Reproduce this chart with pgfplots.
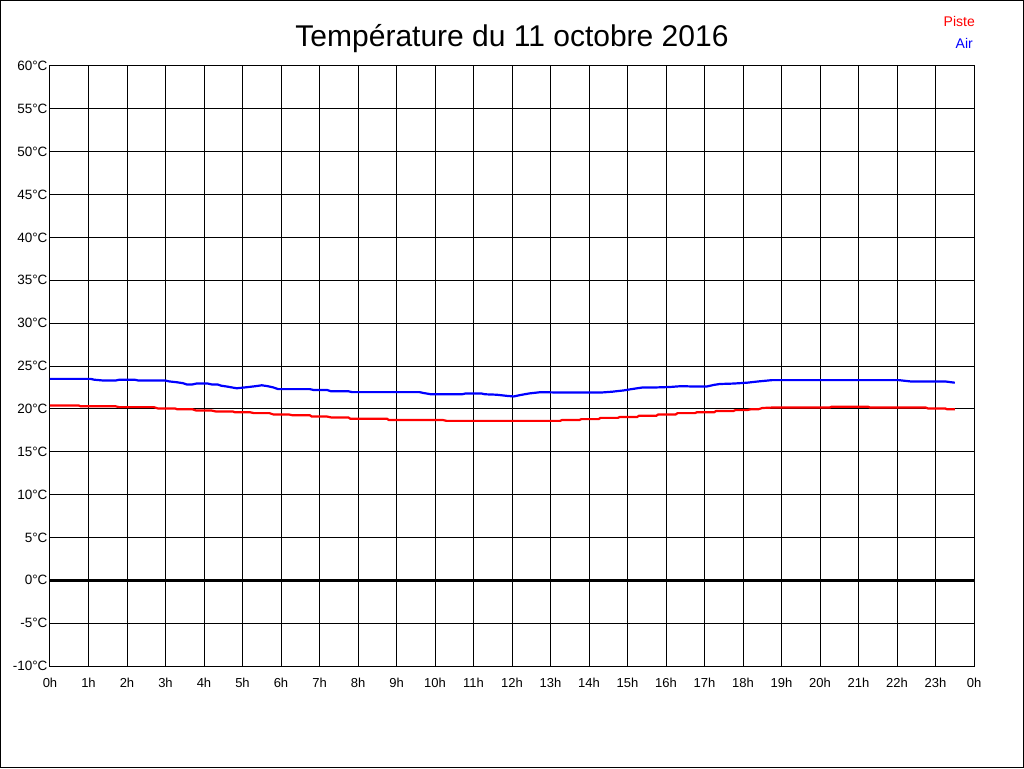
\documentclass[border=0pt]{standalone}
\usepackage{fontspec}
\setmainfont{Liberation Sans}
\usepackage{pgfplots}
\pgfplotsset{compat=1.18}
\definecolor{pred}{RGB}{255,0,0}
\definecolor{pblue}{RGB}{0,0,255}
\begin{document}
\begin{tikzpicture}
\useasboundingbox (-50pt,-102pt) rectangle (974pt,666pt);
\fill[white] (-50pt,-102pt) rectangle (974pt,666pt);
\begin{axis}[
  at={(0pt,0pt)}, anchor=south west,
  scale only axis, width=924pt, height=600pt,
  xmin=0, xmax=24, ymin=-10, ymax=60,
  xtick={0,1,...,24},
  xticklabels={0h,1h,2h,3h,4h,5h,6h,7h,8h,9h,10h,11h,12h,13h,14h,15h,16h,17h,18h,19h,20h,21h,22h,23h,0h},
  ytick={-10,-5,...,60},
  yticklabels={-10°C,-5°C,0°C,5°C,10°C,15°C,20°C,25°C,30°C,35°C,40°C,45°C,50°C,55°C,60°C},
  major tick length=0pt,
  grid=major,
  major grid style={black, line width=1pt},
  axis line style={black, line width=1pt},
  xticklabel style={font=\fontsize{13}{15}\selectfont, text=black, yshift=-8.5pt},
  yticklabel style={font=\fontsize{13.5}{15}\selectfont, text=black, xshift=1pt},
  title={Température du 11 octobre 2016},
  title style={font=\fontsize{30}{34}\selectfont, at={(axis description cs:0.5,1)}, anchor=base, yshift=13.5pt, inner sep=0pt},
  clip=false,
]
\addplot[black, line width=3pt] coordinates {(0,0) (24,0)};
\addplot[pred, line width=2.2pt] coordinates {
(0,20.4) (0.74,20.4) (0.8,20.3) (1.7,20.3) (1.8,20.2) (2.7,20.2) (2.8,20.05) (3.25,20.05)
(3.3,19.95) (3.7,19.95) (3.8,19.8) (4.2,19.8) (4.3,19.7) (4.75,19.7) (4.8,19.6) (5.2,19.6)
(5.3,19.5) (5.7,19.5) (5.8,19.35) (6.2,19.35) (6.3,19.25) (6.75,19.25) (6.8,19.1) (7.2,19.1)
(7.3,19.0) (7.75,19.0) (7.8,18.85) (8.75,18.85) (8.8,18.7) (10.2,18.7) (10.3,18.6) (13.25,18.6)
(13.3,18.7) (13.75,18.7) (13.8,18.8) (14.25,18.8) (14.3,18.95) (14.75,18.95) (14.8,19.05) (15.25,19.05)
(15.3,19.2) (15.75,19.2) (15.8,19.35) (16.25,19.35) (16.3,19.5) (16.75,19.5) (16.8,19.6) (17.25,19.6)
(17.3,19.75) (17.75,19.75) (17.8,19.85) (18.1,19.85) (18.2,19.95) (18.4,19.95) (18.5,20.1) (18.75,20.15)
(20.25,20.15) (20.3,20.25) (21.25,20.25) (21.3,20.15) (22.75,20.15) (22.8,20.05) (23.25,20.05) (23.3,19.95) (23.5,19.95)
};
\addplot[pblue, line width=2.2pt] coordinates {
(0,23.5) (1.05,23.5) (1.15,23.4) (1.4,23.3) (1.7,23.3) (1.8,23.4) (2.2,23.4) (2.3,23.3)
(3.0,23.3) (3.1,23.2) (3.3,23.1) (3.45,23.0) (3.55,22.85) (3.7,22.85) (3.8,22.95) (4.1,22.95)
(4.2,22.85) (4.35,22.85) (4.45,22.7) (4.6,22.6) (4.85,22.4) (5.06,22.5) (5.35,22.65) (5.5,22.75)
(5.65,22.65) (5.8,22.5) (5.93,22.3) (6.75,22.3) (6.85,22.2) (7.2,22.2) (7.3,22.05) (7.75,22.05)
(7.85,21.95) (9.6,21.95) (9.7,21.85) (9.9,21.7) (10.7,21.7) (10.8,21.8) (11.2,21.8) (11.3,21.7)
(11.6,21.65) (11.9,21.5) (12.05,21.45) (12.2,21.6) (12.45,21.8) (12.75,21.95) (13.25,21.9) (14.3,21.9)
(14.6,22.0) (14.9,22.15) (15.1,22.3) (15.4,22.5) (15.75,22.5) (16.1,22.55) (16.4,22.65) (16.75,22.6)
(17.05,22.6) (17.25,22.8) (17.4,22.9) (17.75,22.95) (18.1,23.05) (18.4,23.2) (18.75,23.35) (22.05,23.35)
(22.35,23.2) (23.25,23.2) (23.5,23.05)
};
\end{axis}
\node[anchor=base east, inner sep=0pt, text=pred, font=\fontsize{14}{16}\selectfont] at (925pt,639pt) {Piste};
\node[anchor=base east, inner sep=0pt, text=pblue, font=\fontsize{14}{16}\selectfont] at (923pt,617pt) {Air};
\draw[black, line width=1pt] (-49.5pt,-101.5pt) rectangle (973.5pt,665.5pt);
\end{tikzpicture}
\end{document}
